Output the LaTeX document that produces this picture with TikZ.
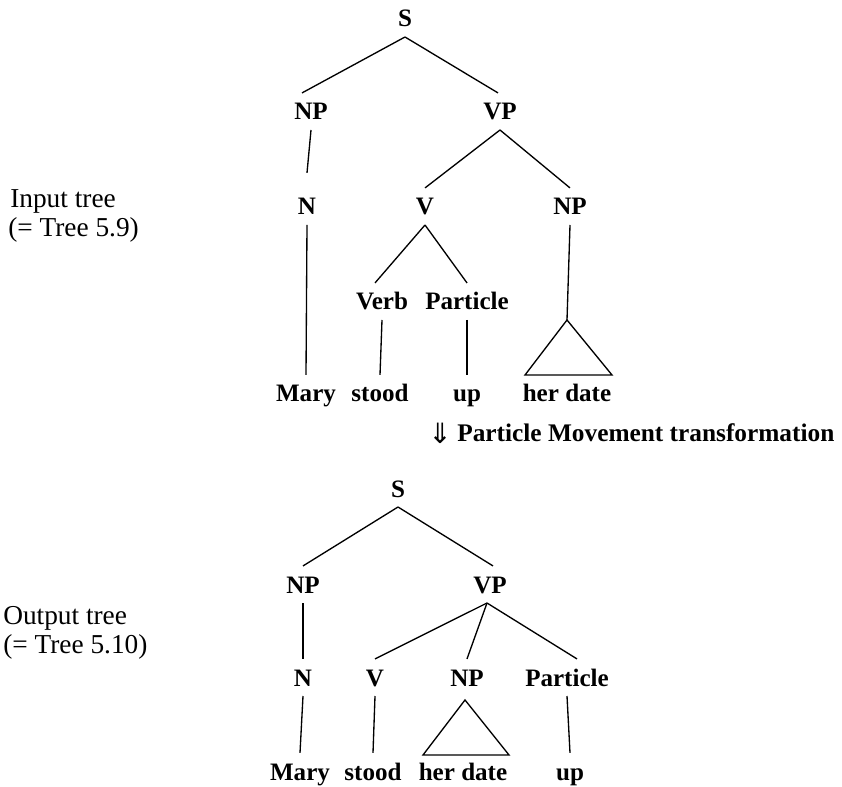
\documentclass[tikz,border=0pt]{standalone}
\usepackage{fontspec}
\setmainfont{Liberation Serif}
\newfontfamily\treefont{Liberation Serif Bold}
\newfontfamily\symfont{DejaVu Sans}
\begin{document}
\begin{tikzpicture}[x=0.75pt,y=-0.75pt,
  cat/.style={inner sep=0pt, outer xsep=0pt, outer ysep=7.5pt, text height=12.8pt, text depth=0pt, anchor=base, font=\treefont\fontsize{18.8}{22}\selectfont},
  lbl/.style={inner sep=0pt, anchor=base west, font=\fontsize{20.5}{24}\selectfont},
  branch/.style={line width=1pt}]
\fill[white] (0,0) rectangle (842,787);
\useasboundingbox (0,0) rectangle (842,787);

% ---------- input tree ----------
\node[cat] (s1) at (405,27) {S};
\node[cat] (np1) at (311,120) {NP};
\node[cat] (vp1) at (500,120) {VP};
\node[cat] (n1) at (307,215) {N};
\node[cat] (v1) at (425,215) {V};
\node[cat] (np2) at (570,215) {NP};
\node[cat] (verb1) at (382,310) {Verb};
\node[cat] (part1) at (467,310) {Particle};
\node[cat] (mary1) at (306,402) {Mary};
\node[cat] (stood1) at (380,402) {stood};
\node[cat] (up1) at (467,402) {up};
\node[cat] (her1) at (567,402) {her date};
\coordinate (tri1) at (567,320);
\coordinate (tri1l) at (525,375);
\coordinate (tri1r) at (612,375);

\draw[branch] (s1.south) -- ([xshift=-6.75pt]np1.north);
\draw[branch] (s1.south) -- ([xshift=-1.5pt]vp1.north);
\draw[branch] (np1.south) -- ([yshift=11.25pt]n1.north);
\draw[branch] (vp1.south) -- (v1.north);
\draw[branch] (vp1.south) -- (np2.north);
\draw[branch] (n1.south) -- (mary1.north);
\draw[branch] (v1.south) -- ([xshift=-5.25pt]verb1.north);
\draw[branch] (v1.south) -- (part1.north);
\draw[branch] (verb1.south) -- (stood1.north);
\draw[branch] (part1.south) -- (up1.north);
\draw[branch] (np2.south) -- (tri1);
\draw[branch] (tri1) -- (tri1l) -- (tri1r) -- cycle;

\node[lbl] (inlbl) at (10,208) {Input tree};
\node[lbl] (inlbl2) at (8,237) {(= Tree 5.9)};

% ---------- transformation ----------
\node[inner sep=0pt, font=\symfont\fontsize{21}{24}\selectfont] (arr) at (440,433) {⇓};
\node[lbl, font=\treefont\fontsize{19}{24}\selectfont] (trans) at (457,441) {Particle Movement transformation};

% ---------- output tree ----------
\node[cat] (s2) at (398,497) {S};
\node[cat] (np3) at (303,593) {NP};
\node[cat] (vp2) at (490,593) {VP};
\node[cat] (n2) at (303,686) {N};
\node[cat] (v2) at (375,686) {V};
\node[cat] (np4) at (467,686) {NP};
\node[cat] (part2) at (567,686) {Particle};
\node[cat] (mary2) at (300,780) {Mary};
\node[cat] (stood2) at (373,780) {stood};
\node[cat] (her2) at (463,780) {her date};
\node[cat] (up2) at (570,780) {up};
\coordinate (tri2) at (465,700);
\coordinate (tri2l) at (423,755);
\coordinate (tri2r) at (509,755);

\draw[branch] (s2.south) -- (np3.north);
\draw[branch] (s2.south) -- ([xshift=2.25pt]vp2.north);
\draw[branch] (np3.south) -- (n2.north);
\draw[branch] ([xshift=-2.25pt]vp2.south) -- (v2.north);
\draw[branch] ([xshift=-2.25pt]vp2.south) -- (np4.north);
\draw[branch] ([xshift=-2.25pt]vp2.south) -- ([xshift=7.5pt]part2.north);
\draw[branch] (n2.south) -- (mary2.north);
\draw[branch] (v2.south) -- (stood2.north);
\draw[branch] (part2.south) -- (up2.north);
\draw[branch] (tri2) -- (tri2l) -- (tri2r) -- cycle;

\node[lbl] (outlbl) at (3,624) {Output tree};
\node[lbl] (outlbl2) at (3,653) {(= Tree 5.10)};
\end{tikzpicture}
\end{document}
